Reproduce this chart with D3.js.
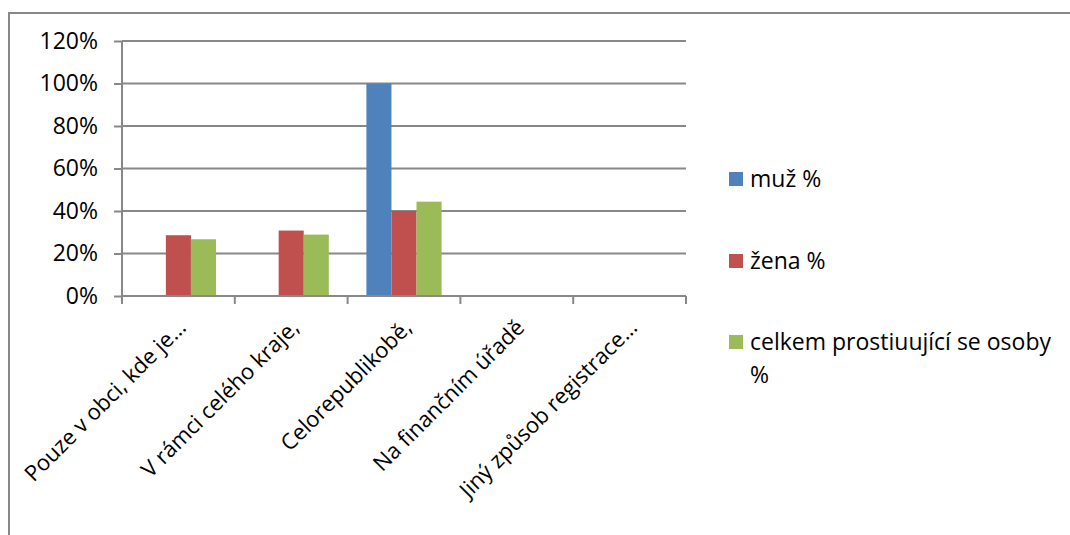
<!DOCTYPE html>
<html><head><meta charset="utf-8">
<script src="https://cdn.jsdelivr.net/npm/d3@7"></script>
<style>body{margin:0;background:#fff;} svg{display:block;font-family:"Open Sans",sans-serif;}</style>
</head><body><svg id="c" width="1070" height="535"></svg>
<script>
const categories = ["Pouze v obci, kde je…","V rámci celého kraje,","Celorepublikobě,","Na finančním úřadě","Jiný způsob registrace…"];
const seriesNames = ["muž %","žena %","celkem prostiuující se osoby %"];
const muz = [0, 0, 1.00, 0, 0];
const zena = [0.286, 0.308, 0.40, 0, 0];
const celkem = [0.267, 0.289, 0.444, 0, 0];
const yTicks = [0,0.2,0.4,0.6,0.8,1.0,1.2];
const colors = ["#4F81BD","#C0504D","#9BBB59"];
const seriesVals = [muz, zena, celkem];

const svg = d3.select("#c");
const gridCol = "#888888";
const fs = "23px";
const pLeft=122, pRight=686, pTop=41, pBottom=296;

// outer border
svg.append("path").attr("d","M9,535 V13 H1070").attr("fill","none").attr("stroke",gridCol).attr("stroke-width",2);

const x = d3.scaleBand().domain(categories).range([pLeft,pRight]).padding(0);
const y = d3.scaleLinear().domain([0,1.2]).range([pBottom,pTop]);
const xs = d3.scaleBand().domain(d3.range(3)).range([0,x.bandwidth()]).paddingInner(0).paddingOuter(0.75);

// gridlines
svg.append("g").selectAll("line").data(yTicks.slice(1)).join("line")
  .attr("x1",pLeft).attr("x2",pRight).attr("y1",d=>y(d)).attr("y2",d=>y(d))
  .attr("stroke",gridCol).attr("stroke-width",2);

// bars
seriesVals.forEach((vals,si)=>{
  svg.append("g").selectAll("rect").data(vals).join("rect")
    .attr("x",(d,i)=>x(categories[i])+xs(si)).attr("width",xs.bandwidth())
    .attr("y",d=>y(d)).attr("height",d=>pBottom-y(d)).attr("fill",colors[si]);
});

// y axis
const yAxis = d3.axisLeft(y).tickValues(yTicks).tickFormat(d=>Math.round(d*100)+"%").tickSize(8).tickPadding(16);
const gy = svg.append("g").attr("transform",`translate(${pLeft},0)`).call(yAxis);
gy.select(".domain").attr("stroke",gridCol).attr("stroke-width",2).attr("d",`M0,${pTop}V${pBottom}`);
gy.selectAll(".tick line").attr("stroke",gridCol).attr("stroke-width",2);
gy.selectAll(".tick text").attr("fill","#000").style("font-size",fs).style("font-family","'Open Sans',sans-serif");

// x axis
const gx = svg.append("g").attr("transform",`translate(0,${pBottom})`);
gx.append("line").attr("x1",pLeft).attr("x2",pRight).attr("stroke",gridCol).attr("stroke-width",2);
const bounds = categories.map(c=>x(c)).concat([pRight]);
gx.selectAll("line.t").data(bounds).join("line").attr("class","t")
  .attr("x1",d=>d).attr("x2",d=>d).attr("y1",0).attr("y2",8).attr("stroke",gridCol).attr("stroke-width",2);
gx.selectAll("text").data(categories).join("text")
  .attr("transform",d=>`translate(${x(d)+x.bandwidth()/2+9},${33}) rotate(-45)`)
  .attr("text-anchor","end").attr("fill","#000").style("font-size","22px").text(d=>d);

// legend
const lg = svg.append("g");
const ly = [179,261,342];
seriesNames.forEach((n,i)=>{
  lg.append("rect").attr("x",729).attr("y",ly[i]-7).attr("width",14).attr("height",14).attr("fill",colors[i]);
});
lg.append("text").attr("x",750).attr("y",ly[0]+8).style("font-size",fs).text(seriesNames[0]);
lg.append("text").attr("x",750).attr("y",ly[1]+8).style("font-size",fs).text(seriesNames[1]);
const t3 = lg.append("text").attr("x",750).attr("y",ly[2]+8).style("font-size",fs);
t3.append("tspan").attr("x",750).text("celkem prostiuující se osoby");
t3.append("tspan").attr("x",750).attr("dy",33).text("%");
</script></body></html>
